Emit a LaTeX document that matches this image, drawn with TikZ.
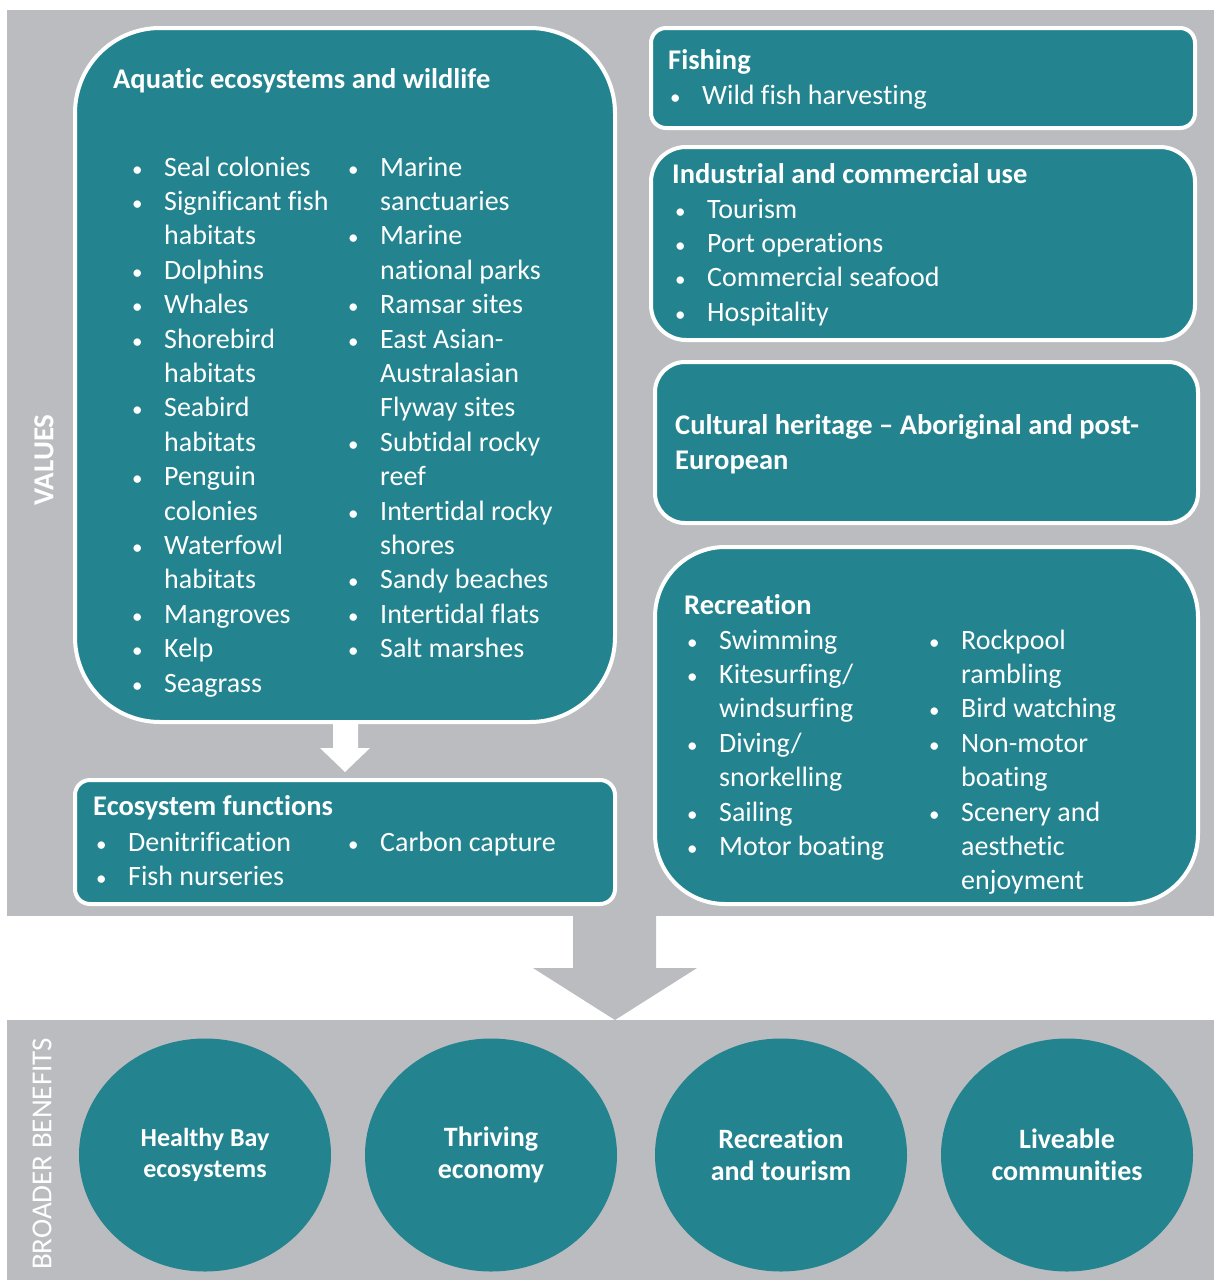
\documentclass[tikz,border=0pt]{standalone}
\usepackage{fontspec}
\setmainfont{Carlito}[Ligatures=NoCommon]
\usetikzlibrary{shapes.geometric}
\definecolor{baytea}{RGB}{35,132,143}
\definecolor{panelgray}{RGB}{187,188,192}
\newcommand{\bul}{{\fontsize{21}{21}\selectfont\textbullet}}
\newcommand{\blist}[1]{\begin{tabular}[t]{@{}p{32pt}@{}l@{}}#1\end{tabular}}
\tikzset{
  box/.style={draw=white, line width=4pt, fill=baytea},
  txt/.style={text=white, inner sep=0pt, anchor=base west, align=left, font=\fontsize{28}{34.4}\selectfont},
  head/.style={txt, font=\bfseries\fontsize{28.5}{34.4}\selectfont},
  ben/.style={ellipse, fill=baytea, text=white, minimum width=252pt, minimum height=233pt, inner sep=0pt, align=center, font=\bfseries\fontsize{28}{32}\selectfont},
  side/.style={text=white, rotate=90, inner sep=0pt, font=\fontsize{29}{32}\selectfont},
}
\begin{document}
\begin{tikzpicture}[x=1pt,y=-1pt]
\useasboundingbox (0,0) rectangle (1214,1280);
% grey panels and the big arrow
\fill[panelgray] (7,10) rectangle (1214,916);
\fill[panelgray] (7,1020) rectangle (1214,1280);
\fill[panelgray] (573,915) -- (656,915) -- (656,968) -- (697,968) -- (615,1020) -- (533,968) -- (573,968) -- cycle;
\node[side, font=\bfseries\fontsize{29}{32}\selectfont] (values) at (44,460) {VALUES};
\node[side] (broad) at (42,1154) {BROADER BENEFITS};
% value boxes
\draw[box, rounded corners=85pt] (75,28) rectangle (615,722); %aquatic
\draw[box, rounded corners=15pt] (75,780) rectangle (615,904); %functions
\draw[box, rounded corners=15pt] (651,28) rectangle (1195,128); %fishing
\draw[box, rounded corners=35pt] (651,147) rectangle (1195,340); %industrial
\draw[box, rounded corners=30pt] (655,362) rectangle (1198,523); %cultural
\draw[box, rounded corners=70pt] (655,547) rectangle (1198,904); %recreation
\fill[white] (333,722) -- (358,722) -- (358,748) -- (370,748) -- (345,772) -- (320,748) -- (333,748) -- cycle;
% aquatic ecosystems
\node[head] (aqhead) at (113,88) {Aquatic ecosystems and wildlife};
\node[txt] (aqleft) at (132,176) {\blist{%
  \bul & Seal colonies\\ \bul & Significant fish\\ & habitats\\
  \bul & Dolphins\\ \bul & Whales\\ \bul & Shorebird\\ & habitats\\
  \bul & Seabird\\ & habitats\\ \bul & Penguin\\ & colonies\\
  \bul & Waterfowl\\ & habitats\\ \bul & Mangroves\\ \bul & Kelp\\
  \bul & Seagrass}};
\node[txt] (aqright) at (348,176) {\blist{%
  \bul & Marine\\ & sanctuaries\\ \bul & Marine\\ & national parks\\
  \bul & Ramsar sites\\ \bul & East Asian-\\ & Australasian\\ & Flyway sites\\
  \bul & Subtidal rocky\\ & reef\\ \bul & Intertidal rocky\\ & shores\\
  \bul & Sandy beaches\\ \bul & Intertidal flats\\ \bul & Salt marshes}};
% ecosystem functions
\node[head] (fnhead) at (93,815) {Ecosystem functions};
\node[txt] (fnleft) at (96,851) {\blist{\bul & Denitrification\\ \bul & Fish nurseries}};
\node[txt] (fnright) at (348,851) {\blist{\bul & Carbon capture}};
% fishing
\node[head] (fishead) at (668,69) {Fishing};
\node[txt] (fislist) at (670,104) {\blist{\bul & Wild fish harvesting}};
% industrial and commercial
\node[head] (indhead) at (672,183) {Industrial and commercial use};
\node[txt] (indlist) at (675,218) {\blist{\bul & Tourism\\ \bul & Port operations\\
  \bul & Commercial seafood\\ \bul & Hospitality}};
% cultural heritage
\node[head, font=\bfseries\fontsize{28.5}{35}\selectfont] (culhead) at (675,469) {Cultural heritage -- Aboriginal and post-\\European};
% recreation
\node[head] (rechead) at (684,614) {Recreation};
\node[txt] (recleft) at (687,649) {\blist{\bul & Swimming\\ \bul & Kitesurfing/\\ & windsurfing\\
  \bul & Diving/\\ & snorkelling\\ \bul & Sailing\\ \bul & Motor boating}};
\node[txt] (recright) at (929,649) {\blist{\bul & Rockpool\\ & rambling\\ \bul & Bird watching\\
  \bul & Non-motor\\ & boating\\ \bul & Scenery and\\ & aesthetic\\ & enjoyment}};
% broader benefits
\node[ben, font=\bfseries\fontsize{26}{31}\selectfont] (healthy) at (205,1155) {Healthy Bay\\ecosystems};
\node[ben] (economy) at (491,1155) {Thriving\\economy};
\node[ben] (tourism) at (781,1155) {Recreation\\and tourism};
\node[ben] (livable) at (1067,1155) {Liveable\\communities};
\end{tikzpicture}
\end{document}
